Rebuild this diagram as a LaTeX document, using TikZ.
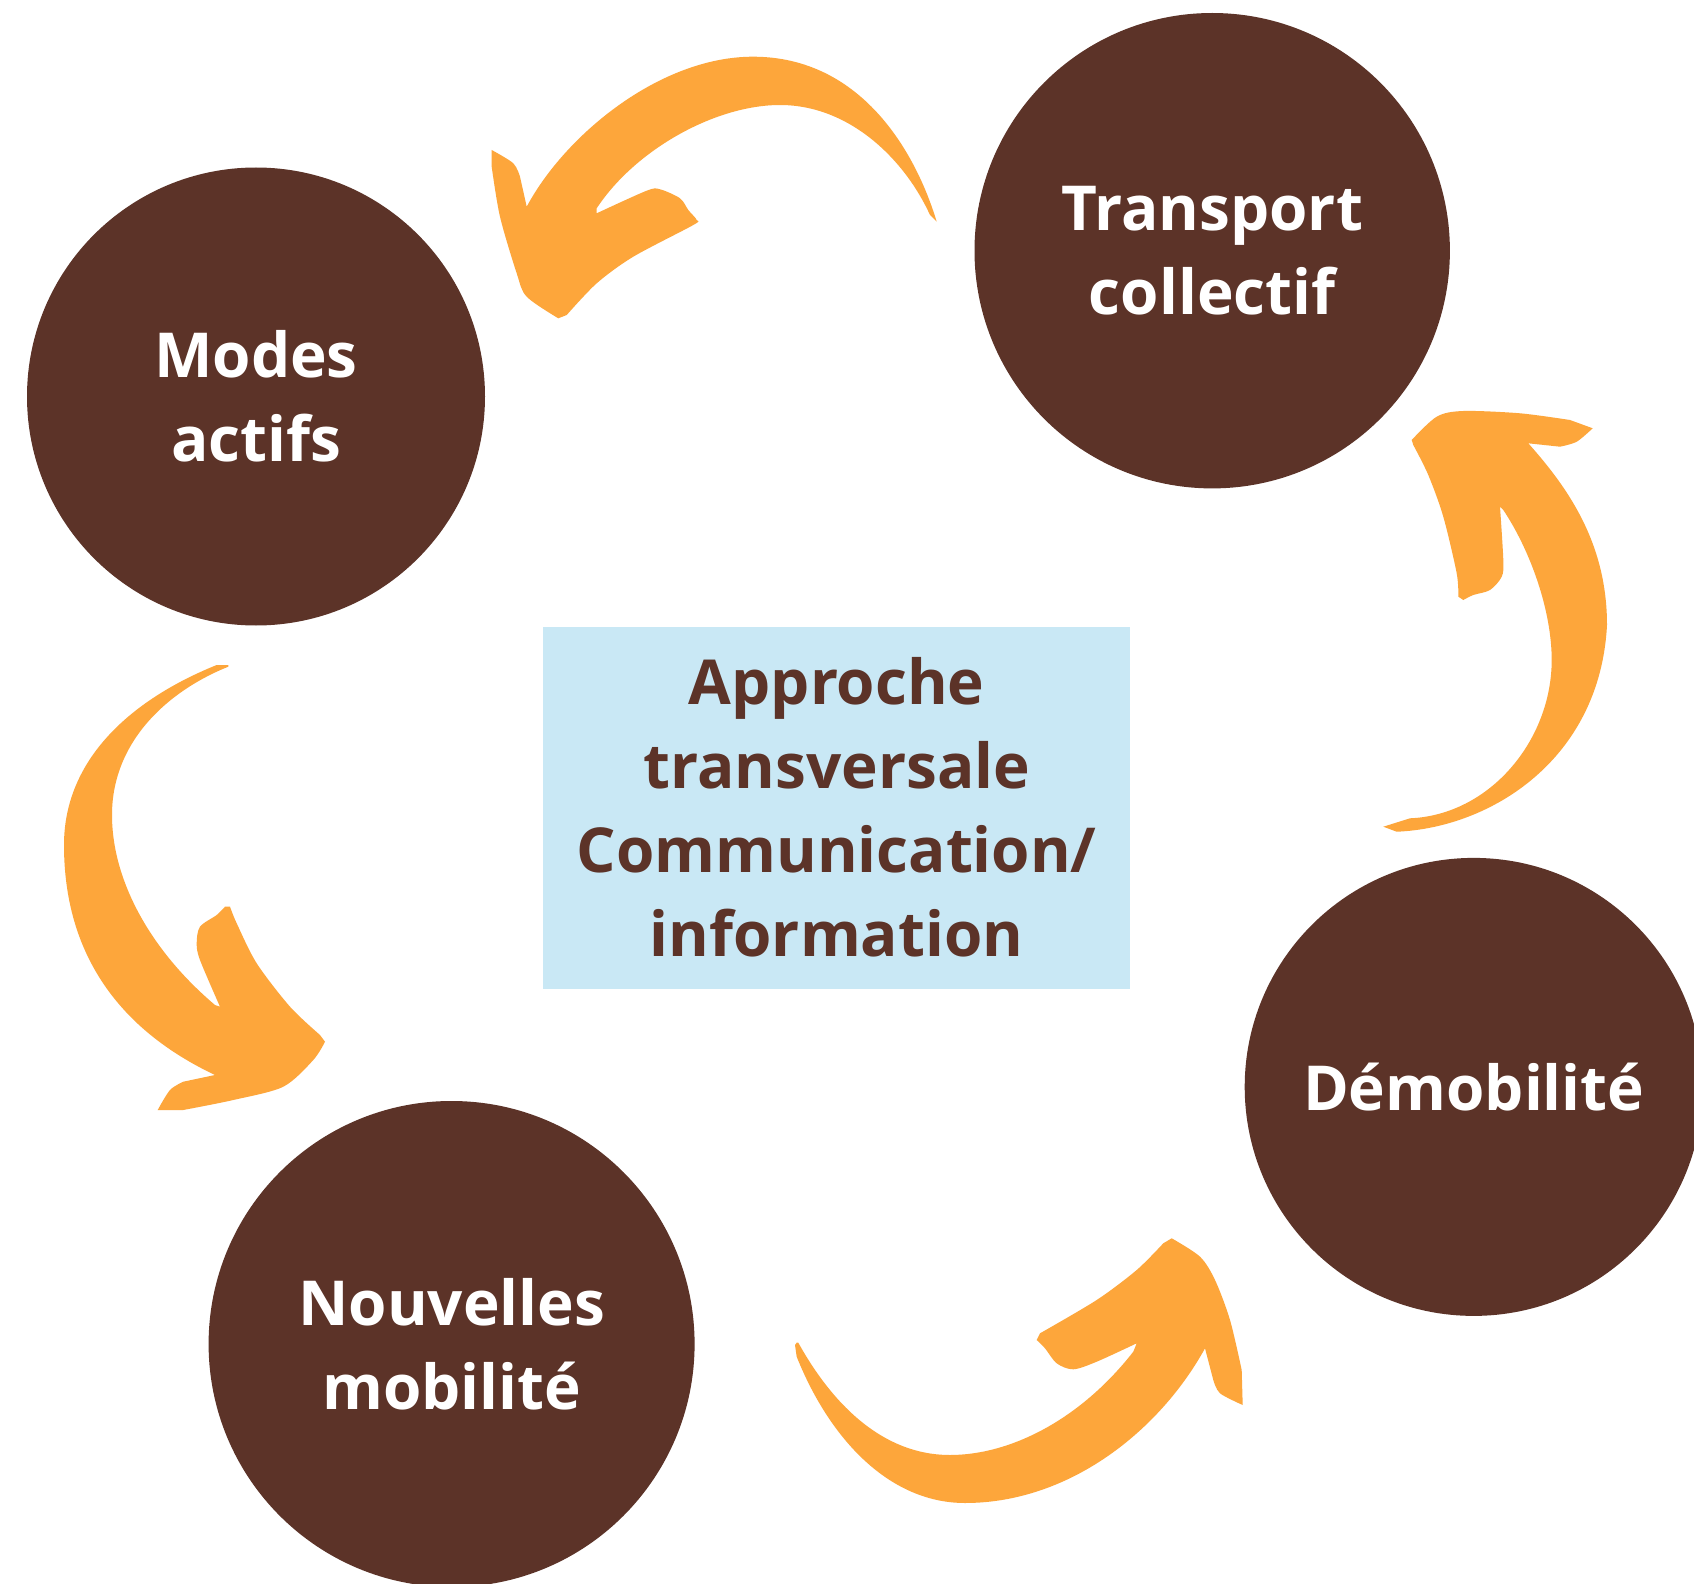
\documentclass[tikz,border=0pt]{standalone}
\usepackage{fontspec}
\setmainfont{Open Sans}
\definecolor{cbrown}{HTML}{5C3328}
\definecolor{corange}{HTML}{FDA63B}
\definecolor{cblue}{HTML}{C9E8F5}
\begin{document}
\begin{tikzpicture}[x=0.5pt,y=-0.5pt,
  hub/.style={circle, fill=cbrown, text=white, align=center, inner sep=0pt,
    font=\fontsize{31}{42}\selectfont\bfseries},
  centerbox/.style={rectangle, fill=cblue, text=cbrown, align=center, inner sep=0pt,
    font=\fontsize{31}{42}\selectfont\bfseries},
  arrowshape/.style={fill=corange}]
\useasboundingbox (0,0) rectangle (1694,1584);
\clip (0,0) rectangle (1694,1584);
\fill[white] (0,0) rectangle (1694,1584);

% circles
\node[hub, minimum size=229pt] (modes) at (256,396.5) {Modes\\actifs};
\node[hub, minimum size=237.7pt] (transport) at (1212.2,250.7) {Transport\\collectif};
\node[hub, minimum size=229pt] (demob) at (1473.7,1086.9) {Démobilité};
\node[hub, minimum size=243pt] (nouv) at (451.6,1344) {Nouvelles\\mobilité};

% centre box
\node[centerbox, minimum width=293.3pt, minimum height=181pt] (box) at (836.7,807.6)
  {Approche\\transversale\\Communication/\\information};

% arrow: transport -> modes
\fill[arrowshape] (936.7,221.7)
 .. controls (915,150) and (860,56.7) .. (753,56.7)
 .. controls (660,56.7) and (565,135) .. (526.7,206.7)
 -- plot[smooth] coordinates {(520,176.7) (513.3,163.3) (491.7,150)}
 -- plot[smooth] coordinates {(491.7,166.7) (500,216.7) (516.7,273.3) (526.7,296.7) (558.3,318.3)}
 -- plot[smooth] coordinates {(566.7,315) (596.7,283.3) (633.3,256.7) (693.3,225) (696.7,220) (688.3,210) (680,198.3) (660,189.3) (646.7,190.7) (596.7,213.3)}
 -- (596.7,208.3)
 .. controls (635,150) and (715,105) .. (780,105)
 .. controls (850,105) and (905,160) .. (930,215)
 -- cycle;

% arrow: demobilite -> transport
\fill[arrowshape] (1383.3,826.7) -- (1396.7,831.7)
 .. controls (1490,828) and (1600,760) .. (1607,625)
 .. controls (1607,545) and (1570,490) .. (1528.3,443.3)
 -- plot[smooth] coordinates {(1560,446.7) (1576.7,441.7) (1592.7,428.3)}
 -- plot[smooth] coordinates {(1570,420) (1520,413.3) (1463.3,411) (1436.7,416.7) (1411.7,440)}
 -- plot[smooth] coordinates {(1413.3,445) (1428.3,475) (1443.3,516.7) (1456.7,573.3) (1458.3,596.7)}
 -- plot[smooth] coordinates {(1463.3,600) (1473.3,595) (1490,590) (1501.7,576.7) (1503.3,560) (1500,506.7)}
 -- (1503.3,510)
 .. controls (1530,550) and (1551.7,610) .. (1551.7,660)
 .. controls (1551.7,740) and (1490,815) .. (1410,818.3)
 -- cycle;

% arrow: modes -> nouvelles
\fill[arrowshape] (228.3,665) -- (216.7,665)
 .. controls (130,700) and (64,760) .. (64,845)
 .. controls (64,955) and (120,1030) .. (215,1075)
 -- plot[smooth] coordinates {(183.3,1081.7) (170,1090) (157.7,1110)}
 -- plot[smooth] coordinates {(183.3,1110) (233.3,1100) (283.3,1086.7) (313.3,1060) (325,1041.7)}
 -- plot[smooth] coordinates {(320,1035) (290,1006.7) (256.7,963.3) (236.7,923.3) (230,906.7)}
 -- plot[smooth] coordinates {(225,906.7) (216.7,915) (200,926.7) (196.7,943.3) (200,960) (220,1006.7)}
 -- (215,1005)
 .. controls (150,950) and (112,880) .. (112,815)
 .. controls (112,740) and (170,690) .. (228.3,666.7)
 -- cycle;

% arrow: nouvelles -> demobilite
\fill[arrowshape] (796.7,1342.7) -- (795,1345) -- (796.7,1356.7)
 .. controls (830,1440) and (890,1503) .. (965,1503)
 .. controls (1070,1503) and (1160,1430) .. (1205,1348.3)
 -- plot[smooth] coordinates {(1213.3,1380) (1220,1393.3) (1242.7,1405)}
 -- plot[smooth] coordinates {(1241.7,1370) (1230,1320) (1215,1280) (1200,1256.7) (1171.7,1238.3)}
 -- plot[smooth] coordinates {(1163.3,1243.3) (1136.7,1270) (1096.7,1300) (1040,1333.3)}
 -- plot[smooth] coordinates {(1036.7,1340) (1045,1348.3) (1056.7,1363.3) (1073.3,1369.3) (1096.7,1361.7) (1136.7,1343.3)}
 -- (1133.3,1351.7)
 .. controls (1080,1420) and (1010,1455) .. (950,1455)
 .. controls (880,1455) and (830,1400) .. (798.3,1342.7)
 -- cycle;
\end{tikzpicture}
\end{document}
